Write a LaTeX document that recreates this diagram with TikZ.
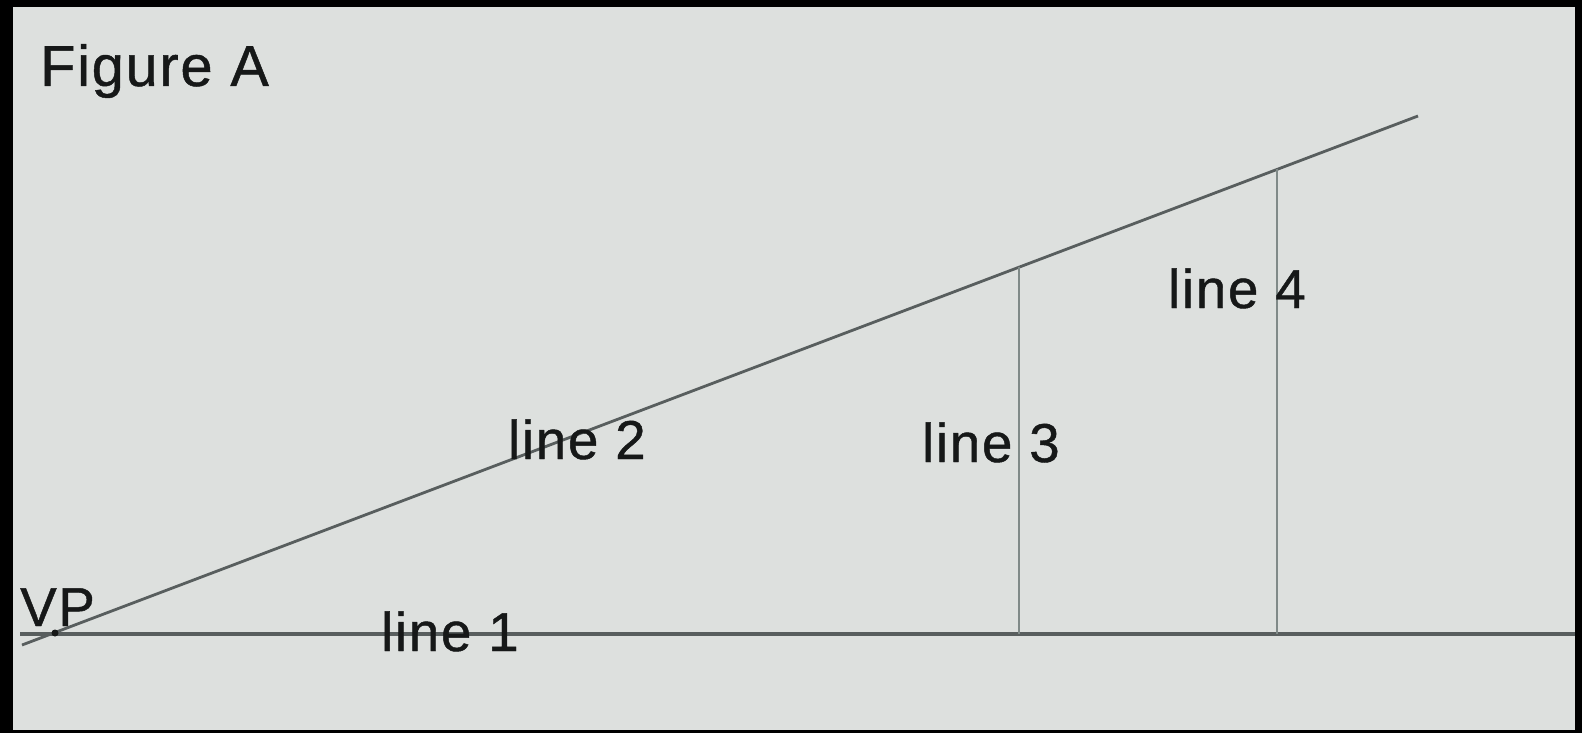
\documentclass[tikz,border=0pt]{standalone}
\usepackage{fontspec}
\setmainfont{Liberation Sans}[FakeBold=0.8]
\newfontfamily\lblfont{Liberation Sans}[FakeBold=0.8,LetterSpace=3]
\definecolor{paper}{RGB}{221,224,222}
\definecolor{ink}{RGB}{22,24,24}
\definecolor{darkline}{RGB}{88,94,94}
\definecolor{lightline}{RGB}{128,138,136}
\begin{document}
\begin{tikzpicture}[x=1bp,y=-1bp,
  lbl/.style={inner sep=0pt,anchor=base west,text=ink,font=\lblfont\fontsize{55}{60}\selectfont},
  mainline/.style={draw=darkline,line width=3.6bp},
  slantline/.style={draw=darkline,line width=2.8bp},
  vertline/.style={draw=lightline,line width=2.8bp}]
\fill[black] (0,0) rectangle (1582,733);
\fill[paper] (13,7) rectangle (1575,730);
\useasboundingbox (0,0) rectangle (1582,733);
% coordinates
\coordinate (L1s) at (20,634);
\coordinate (L1e) at (1575,634);
\coordinate (L2s) at (22,645);
\coordinate (L2e) at (1418,116);
\coordinate (VP) at (55,633);
\coordinate (L3t) at (1019,267.2);
\coordinate (L3b) at (1019,634);
\coordinate (L4t) at (1277,169.4);
\coordinate (L4b) at (1277,634);
% lines
\draw[mainline] (L1s) -- (L1e);
\draw[slantline] (L2s) -- (L2e);
\draw[vertline] (L3t) -- (L3b);
\draw[vertline] (L4t) -- (L4b);
\fill[ink] (VP) circle (3.5);
% labels
\node[lbl,font=\lblfont\fontsize{58}{62}\selectfont] (title) at (40,86) {Figure A};
\node[lbl] (vp) at (20,626) {VP};
\node[lbl] (t1) at (381,651) {line 1};
\node[lbl] (t2) at (508,459) {line 2};
\node[lbl] (t3) at (922,462) {line 3};
\node[lbl] (t4) at (1168,308) {line 4};
\end{tikzpicture}
\end{document}
